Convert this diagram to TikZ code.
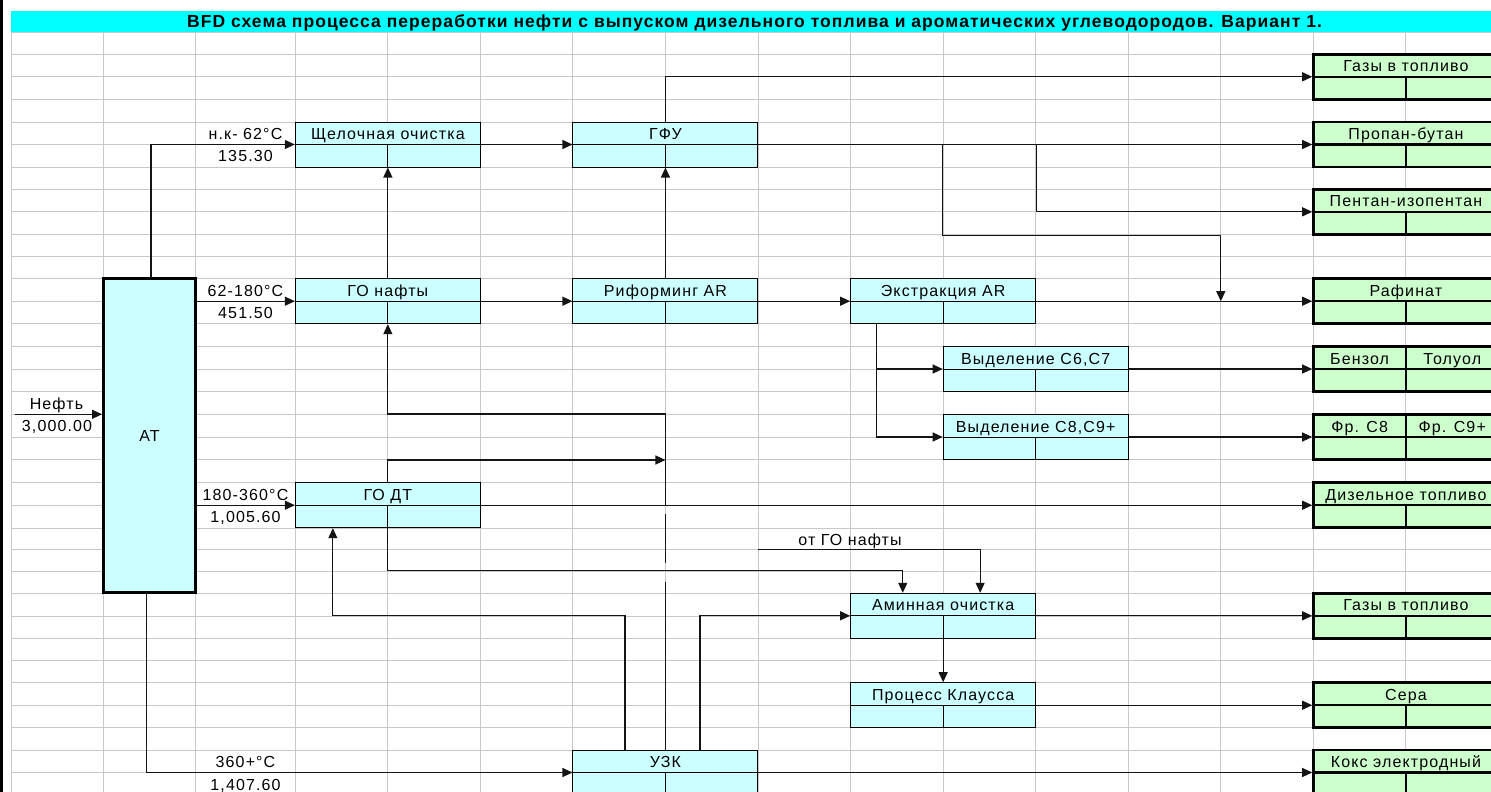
\documentclass[tikz,border=0pt]{standalone}
\usepackage{fontspec}
\setmainfont{Liberation Sans}[LetterSpace=7]
\usetikzlibrary{arrows.meta}
\definecolor{cyanfill}{RGB}{204,255,255}
\definecolor{greenfill}{RGB}{204,255,204}
\definecolor{titlecyan}{RGB}{0,255,255}
\definecolor{gridgray}{RGB}{200,200,200}
\definecolor{ink}{RGB}{20,20,20}
\tikzset{
  gridline/.style={draw=gridgray, line width=1pt},
  procbox/.style={rectangle, draw=black, line width=1pt, fill=cyanfill, minimum width=185pt, minimum height=45pt, inner sep=0pt},
  prodbox/.style={rectangle, draw=black, line width=2.5pt, fill=greenfill, minimum width=185pt, minimum height=45pt, inner sep=0pt},
  atbox/.style={rectangle, draw=black, line width=2.5pt, fill=cyanfill, minimum width=92.4pt, minimum height=313.6pt, inner sep=0pt},
  procdiv/.style={draw=black, line width=1pt},
  proddiv/.style={draw=black, line width=2.5pt},
  boxtxt/.style={anchor=base, inner sep=0pt, text=black},
  flowlbl/.style={anchor=base, inner sep=0pt, text=black},
  titletxt/.style={anchor=base, inner sep=0pt, text=black, font=\fontsize{17.5}{20}\selectfont\bfseries\addfontfeature{LetterSpace=6}},
  conn/.style={draw=ink, line width=1.1pt},
  arr/.style={conn, -{Triangle[length=10pt,width=9pt]}},
}
\newcommand{\MakeProc}[3]{%
  \node[procbox] (#1) at (#2) {};
  \draw[procdiv] (#1.west) -- (#1.east) (#1.center) -- (#1.south);
  \node[boxtxt] at ([yshift=5pt]#1.center) {#3};}
\newcommand{\MakeProd}[3]{%
  \node[prodbox] (#1) at (#2) {};
  \draw[proddiv] (#1.west) -- (#1.east) (#1.center) -- (#1.south);
  \node[boxtxt] at ([yshift=5pt]#1.center) {#3};}
\newcommand{\MakeProdTwo}[4]{%
  \node[prodbox] (#1) at (#2) {};
  \draw[proddiv] (#1.west) -- (#1.east) (#1.north) -- (#1.south);
  \node[boxtxt] at ([xshift=-46.3pt,yshift=5pt]#1.center) {#3};
  \node[boxtxt] at ([xshift=46.3pt,yshift=5pt]#1.center) {#4};}
\begin{document}
\begin{tikzpicture}[x=1pt,y=-1pt,font=\fontsize{16}{19}\selectfont]
\clip (0,0) rectangle (1491,792);
\fill[white] (0,0) rectangle (1491,792);
% grid
\foreach \x in {11,103.3,195.7,295.3,387.8,480.4,572.9,665.5,758,850.6,943.1,1035.7,1128.3,1220.8,1313.4,1405.9}
  \draw[gridline] (\x,32.3) -- (\x,792);
\foreach \y in {32.3,54.3,77,99.3,122,144.3,167,189.3,211.8,234.3,256.5,278.7,301.3,323.7,346.3,369,391.7,414.3,437,459.7,482.3,505,528,549.3,571,593.3,616,638.3,660,682.7,705,727.7,750,772.7}
  \draw[gridline] (11,\y) -- (1491,\y);
% window border and title band
\fill[black] (0,0) rectangle (2.6,792);
\fill[titlecyan] (11,11) rectangle (1491,32.3);
\node[titletxt] (title) at (754.5,27.3)
  {BFD схема процесса переработки нефти с выпуском дизельного топлива и ароматических углеводородов. Вариант 1.};
% column AT
\node[atbox] (at) at (149.5,435.5) {};
\node[boxtxt] at ([yshift=-5.5pt]at.center) {АТ};
% process boxes
\MakeProc{shch}{387.85,144.5}{Щелочная очистка}
\MakeProc{gfu}{665.45,144.5}{ГФУ}
\MakeProc{gonafty}{387.85,301.2}{ГО нафты}
\MakeProc{reform}{665.45,301.2}{Риформинг AR}
\MakeProc{extr}{943.15,301.2}{Экстракция AR}
\MakeProc{vyd1}{1035.7,369}{Выделение C6,C7}
\MakeProc{vyd2}{1035.7,437}{Выделение C8,C9+}
\MakeProc{godt}{387.85,505.2}{ГО ДТ}
\MakeProc{amin}{943.15,615.8}{Аминная очистка}
\MakeProc{claus}{943.15,705.2}{Процесс Клаусса}
\MakeProc{uzk}{665.45,772.5}{УЗК}
% product boxes
\MakeProd{gas1}{1405.95,76.8}{Газы в топливо}
\MakeProd{propan}{1405.95,144.5}{Пропан-бутан}
\MakeProd{pentan}{1405.95,211.8}{Пентан-изопентан}
\MakeProd{rafin}{1405.95,301.2}{Рафинат}
\MakeProdTwo{benz}{1405.95,369}{Бензол}{Толуол}
\MakeProdTwo{fr}{1405.95,437}{Фр. C8}{Фр. C9+}
\MakeProd{diesel}{1405.95,505.2}{Дизельное топливо}
\MakeProd{gas2}{1405.95,615.8}{Газы в топливо}
\MakeProd{sera}{1405.95,705.2}{Сера}
\MakeProd{koks}{1405.95,772.5}{Кокс электродный}
% helper coordinates
\coordinate (feed) at (15,414.3);
\coordinate (colM) at (1220.8,0);
\coordinate (otgo) at (758,549.3);
\coordinate (atTop) at ([xshift=1.5pt]at.north);
\coordinate (atBot) at ([xshift=-3pt]at.south);
\coordinate (exDown) at ([xshift=26pt]extr.south west);
\coordinate (uzkL) at ([xshift=-40.5pt]uzk.north);
\coordinate (uzkR) at ([xshift=34.5pt]uzk.north);
\coordinate (godtA) at ([xshift=38pt]godt.south west);
\coordinate (aminA) at ([xshift=52.6pt]amin.north west);
\coordinate (aminB) at ([xshift=130pt]amin.north west);
% connectors
\draw[arr] (feed) -- (feed -| at.west);
\draw[arr] (atTop) |- (shch.west);
\draw[arr] (gonafty.west -| at.east) -- (gonafty.west);
\draw[arr] (godt.west -| at.east) -- (godt.west);
\draw[arr] (atBot) |- (uzk.west);
\draw[arr] (shch.east) -- (gfu.west);
\draw[arr] (gonafty.north) -- (shch.south);
\draw[arr] (gonafty.east) -- (reform.west);
\draw[arr] (reform.north) -- (gfu.south);
\draw[arr] (reform.east) -- (extr.west);
\draw[arr] (gfu.north) |- (gas1.west);
\draw[arr] (gfu.east) -- (propan.west);
\draw[arr] (gfu.east -| vyd1.west) |- (pentan.south -| colM) -- (rafin.west -| colM);
\draw[arr] (gfu.east -| extr.east) |- (pentan.west);
\draw[arr] (extr.east) -- (rafin.west);
\draw[arr] (exDown) |- (vyd1.west);
\draw[arr] (exDown) |- (vyd2.west);
\draw[arr] (vyd1.east) -- (benz.west);
\draw[arr] (vyd2.east) -- (fr.west);
\draw[arr] (godt.east) -- (diesel.west);
\draw[arr] (godt.north) |- (vyd2.south -| uzk.north);
\draw[conn] (uzk.north) -- (uzk.north |- 0,581.7);
\draw[conn] (uzk.north |- 0,563.3) -- (uzk.north |- 0,514.3);
\draw[arr] (godt.east -| uzk.north) |- (vyd2.north -| gonafty.south) -- (gonafty.south);
\draw[arr] (godt.south) |- ([yshift=22.4pt]aminA) -- (aminA);
\draw[arr] (otgo) -| (aminB);
\draw[arr] (uzkL) |- (godtA |- amin.west) -- (godtA);
\draw[arr] (uzkR) |- (amin.west);
\draw[arr] (amin.south) -- (claus.north);
\draw[arr] (amin.east) -- (gas2.west);
\draw[arr] (claus.east) -- (sera.west);
\draw[arr] (uzk.east) -- (koks.west);
% flow labels
\node[flowlbl] at (56.5,409.3) {Нефть};
\node[flowlbl] at (57,431.5) {3,000.00};
\node[flowlbl] at (245.5,139.3) {н.к- 62°C};
\node[flowlbl] at (245.5,161.7) {135.30};
\node[flowlbl] at (245.5,296.3) {62-180°C};
\node[flowlbl] at (245.5,318.5) {451.50};
\node[flowlbl] at (245.5,500) {180-360°C};
\node[flowlbl] at (245.5,522.7) {1,005.60};
\node[flowlbl] at (245.5,767.7) {360+°C};
\node[flowlbl] at (245.5,790) {1,407.60};
\node[flowlbl] at (850,545) {от ГО нафты};
\end{tikzpicture}
\end{document}
